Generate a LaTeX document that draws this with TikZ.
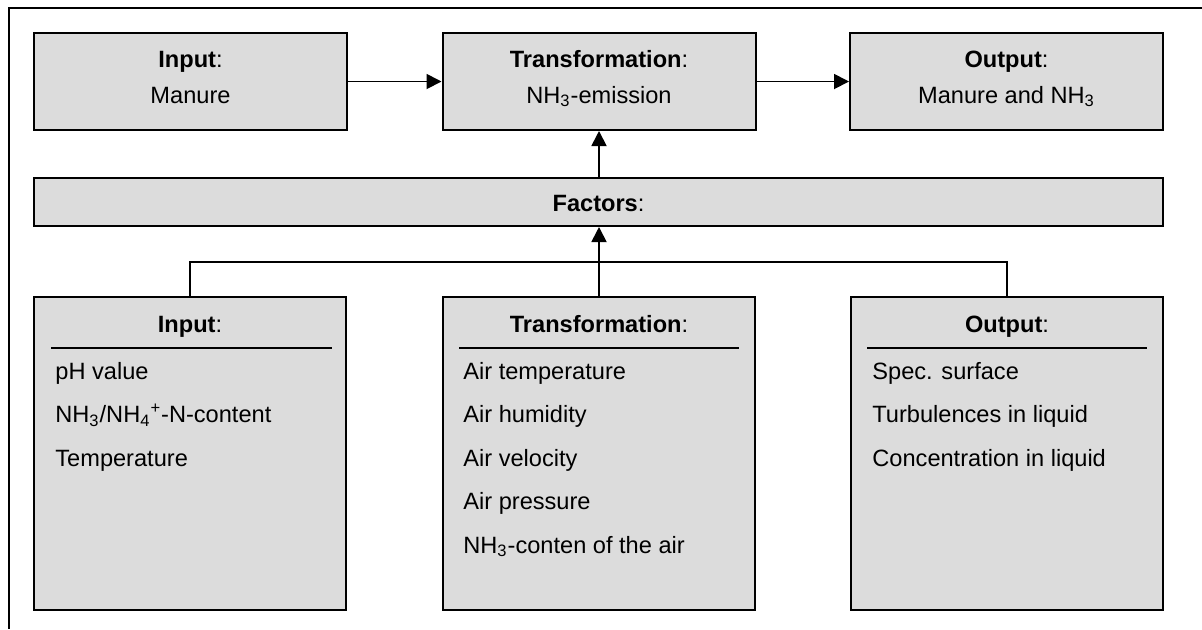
\documentclass[tikz,border=0pt]{standalone}
\usepackage{fontspec}
\setmainfont{Liberation Sans}
\usetikzlibrary{arrows.meta}
\definecolor{boxfill}{RGB}{220,220,220}
\begin{document}
\begin{tikzpicture}[x=0.5pt,y=-0.5pt,
  font=\fontsize{11.8}{14}\selectfont,
  box/.style={draw=black, fill=boxfill, line width=1pt, inner sep=0pt, rectangle},
  topbox/.style={box, minimum width=156.5pt, minimum height=48.5pt},
  lowbox/.style={box, minimum width=156pt, minimum height=156.5pt},
  title/.style={anchor=base, inner sep=0pt},
  item/.style={anchor=base west, inner sep=0pt},
  link/.style={line width=0.9pt},
  arr/.style={link, -{Triangle[length=7.5pt,width=7.5pt]}},
  rule/.style={line width=1pt},
  frame/.style={line width=1.1pt}]
\useasboundingbox (0,0) rectangle (1202,629);

% outer frame (top and left edges)
\draw[frame] (1202,8) -- (9,8) -- (9,629);

% process row
\node[topbox] (inT)  at (190.5,81.5) {};
\node[topbox] (trT)  at (599,81.5) {};
\node[topbox] (outT) at (1006.5,81.5) {};

\node[title] (inT1)  at (190.5,67)  {\textbf{Input}:};
\node[title] (inT2)  at (190.5,103) {Manure};
\node[title] (trT1)  at (599,67)    {\textbf{Transformation}:};
\node[title] (trT2)  at (599,103)   {NH\textsubscript{3}-emission};
\node[title] (outT1) at (1006.5,67) {\textbf{Output}:};
\node[title] (outT2) at (1006.5,103){Manure and NH\textsubscript{3}};

% factors bar
\node[box, minimum width=564.5pt, minimum height=24pt] (fac) at (598.5,202) {};
\node[title] (facT) at (598.5,211) {\textbf{Factors}:};

% factor groups
\node[lowbox] (inB)  at (190,453.5) {};
\node[lowbox] (trB)  at (599,453.5) {};
\node[lowbox] (outB) at (1007,453.5) {};

\node[title] (inB1)  at (190,332)  {\textbf{Input}:};
\node[title] (trB1)  at (599,332)  {\textbf{Transformation}:};
\node[title] (outB1) at (1007,332) {\textbf{Output}:};

\draw[rule] (51,348) -- (332,348);
\draw[rule] (459,348) -- (739,348);
\draw[rule] (867,348) -- (1147,348);

\node[item] (i1) at (55,379)   {pH value};
\node[item] (i2) at (55,422.5) {NH\textsubscript{3}/NH\textsubscript{4}\textsuperscript{+}-N-content};
\node[item] (i3) at (55,466)   {Temperature};

\node[item] (t1) at (463,379)   {Air temperature};
\node[item] (t2) at (463,422.5) {Air humidity};
\node[item] (t3) at (463,466)   {Air velocity};
\node[item] (t4) at (463,509.5) {Air pressure};
\node[item] (t5) at (463,553)   {NH\textsubscript{3}-conten of the air};

\node[item] (o1) at (872,379)   {Spec. surface};
\node[item] (o2) at (872,422.5) {Turbulences in liquid};
\node[item] (o3) at (872,466)   {Concentration in liquid};

% connectors
\draw[arr] (inT.east) -- (trT.west);
\draw[arr] (trT.east) -- (outT.west);
\draw[arr] (fac.north -| trT.south) -- (trT.south);
\draw[arr] (trB.north) -- (trB.north |- fac.south);
\coordinate (bus) at (599,262);
\draw[link] (inB.north) |- (bus) -| (outB.north);
\end{tikzpicture}
\end{document}
